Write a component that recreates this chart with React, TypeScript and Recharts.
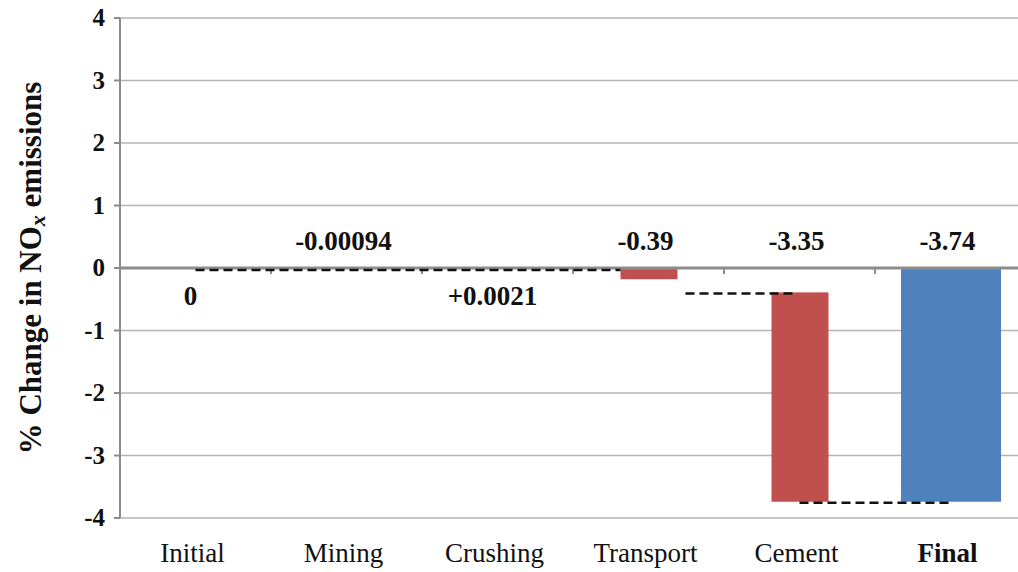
import React from 'react';
import { ComposedChart, Bar, Line, XAxis, YAxis, CartesianGrid, ReferenceLine, LabelList } from 'recharts';

const FONT = "'Liberation Serif', 'Times New Roman', serif";
const C = { RED: '#C0504D', BLUE: '#4F81BD', GRID: '#B4B4B4', AXIS: '#8C8C8C', TEXT: '#111' };

const categories = ['Initial', 'Mining', 'Crushing', 'Transport', 'Cement', 'Final'];
const valueLabels = ['0', '-0.00094', '+0.0021', '-0.39', '-3.35', '-3.74'];
const labelBelow = [true, false, true, false, false, false];
// invisible offset under each step, then the visible step itself
const stepBase = [0, 0, 0, 0, -0.39, 0];
const stepDelta = [0, -0.00094, 0.0021, -0.18, -3.35, 0];
const finalTotal = [0, 0, 0, 0, 0, -3.74];
const labelLevel = [0, 0, 0, 0, 0, 0];
const yTicks = [-4, -3, -2, -1, 0, 1, 2, 3, 4];

// dashed connectors between levels: [from, to, level, trimStart, trimEnd]
const connectors: Array<[string, string, number, number, number]> = [
  ['Initial', 'Transport', 0, 0, 28],
  ['Transport', 'Cement', -0.39, 37, 3],
  ['Cement', 'Final', -3.74, 0, 2],
];

const data = categories.map((name, i) => ({
  name,
  base: stepBase[i],
  delta: stepDelta[i],
  total: finalTotal[i],
  level: labelLevel[i],
  label: valueLabels[i],
  below: labelBelow[i],
}));

const RedStep = (p: any) => {
  const h = Math.abs(p.height);
  if (!h || h < 0.5) return null;
  const y = Math.min(p.y, p.y + p.height);
  const w = 57;
  return <rect x={p.x + (p.width - w) / 2} y={y} width={w} height={h} fill={C.RED} />;
};

const BlueTotal = (p: any) => {
  const h = Math.abs(p.height);
  if (!h || h < 0.5) return null;
  const y = Math.min(p.y, p.y + p.height);
  return <rect x={p.x} y={y} width={p.width} height={h} fill={C.BLUE} />;
};

const XTick = (p: any) => {
  const v = p.payload.value;
  return (
    <text x={p.x - 3} y={p.y} dy={36} textAnchor="middle" fontSize={27}
      style={{ fontFamily: FONT, fontWeight: v === 'Final' ? 'bold' : 'normal' }} fill={C.TEXT}>
      {v}
    </text>
  );
};

const YTick = (p: any) => (
  <text x={p.x} y={p.y} dy={8} textAnchor="end" fontSize={25}
    style={{ fontFamily: FONT, fontWeight: 'bold' }} fill={C.TEXT}>
    {p.payload.value}
  </text>
);

const ZeroLine = (p: any) => {
  const { x1, x2, y1 } = p;
  const step = (x2 - x1) / categories.length;
  return (
    <g>
      <line x1={x1} x2={x2} y1={y1} y2={y1} stroke={C.AXIS} strokeWidth={3} />
      {categories.slice(1).map((_, i) => (
        <line key={i} x1={x1 + step * (i + 1)} x2={x1 + step * (i + 1)} y1={y1} y2={y1 + 6} stroke={C.AXIS} strokeWidth={2} />
      ))}
    </g>
  );
};

const dashShape = (trimStart: number, trimEnd: number, shift: number) => (p: any) => (
  <line x1={p.x1 + trimStart} x2={p.x2 - trimEnd} y1={p.y1 + shift} y2={p.y2 + shift}
    stroke="#111" strokeWidth={2.5} strokeDasharray="9 5" />
);

const ValueLabel = (p: any) => {
  const d = data[p.index];
  return (
    <text x={p.x - (d.below ? 5 : 3)} y={p.y + (d.below ? 37 : -18)} textAnchor="middle" fontSize={27}
      style={{ fontFamily: FONT, fontWeight: 'bold' }} fill={C.TEXT}>
      {d.label}
    </text>
  );
};

const YLabel = (p: any) => {
  const vb = p.viewBox || { x: 0, y: 18, height: 500 };
  const cx = 30;
  const cy = vb.y + vb.height / 2;
  return (
    <text x={cx} y={cy} transform={`rotate(-90 ${cx} ${cy})`} textAnchor="middle"
      fontSize={31} style={{ fontFamily: FONT, fontWeight: 'bold' }} fill={C.TEXT} dominantBaseline="central">
      % Change in NO<tspan fontStyle="italic" fontSize={22} dy={7}>x</tspan>
      <tspan dy={-7}> emissions</tspan>
    </text>
  );
};

const App: React.FC = () => (
  <div style={{ position: 'absolute', left: 0, top: 0, width: 1018, height: 572, overflow: 'hidden', background: '#fff' }}>
    <ComposedChart width={1030} height={572} data={data} margin={{ top: 18, right: 4, bottom: 0, left: 0 }} barSize={100}>
      <CartesianGrid horizontal vertical={false} stroke={C.GRID} strokeWidth={1.5} />
      <XAxis dataKey="name" height={54} axisLine={false} tickLine={false} tick={<XTick />} interval={0} />
      <YAxis width={120} domain={[-4, 4]} ticks={yTicks} interval={0} tickMargin={9}
        axisLine={{ stroke: C.AXIS, strokeWidth: 2 }} tickLine={{ stroke: C.AXIS, strokeWidth: 2 }}
        tick={<YTick />} label={<YLabel />} />
      <Bar dataKey="base" stackId="w" fill="none" isAnimationActive={false} />
      <Bar dataKey="delta" stackId="w" shape={<RedStep />} isAnimationActive={false} />
      <Bar dataKey="total" stackId="w" shape={<BlueTotal />} isAnimationActive={false} />
      <ReferenceLine y={0} shape={<ZeroLine />} />
      {connectors.map(([a, b, lvl, ts, te], i) => (
        <ReferenceLine key={i} segment={[{ x: a, y: lvl }, { x: b, y: lvl }]} shape={dashShape(ts, te, i === 0 ? 2 : 1)} />
      ))}
      <Line dataKey="level" stroke="none" dot={false} activeDot={false} isAnimationActive={false}>
        <LabelList dataKey="label" content={<ValueLabel />} />
      </Line>
    </ComposedChart>
  </div>
);

export default App;
